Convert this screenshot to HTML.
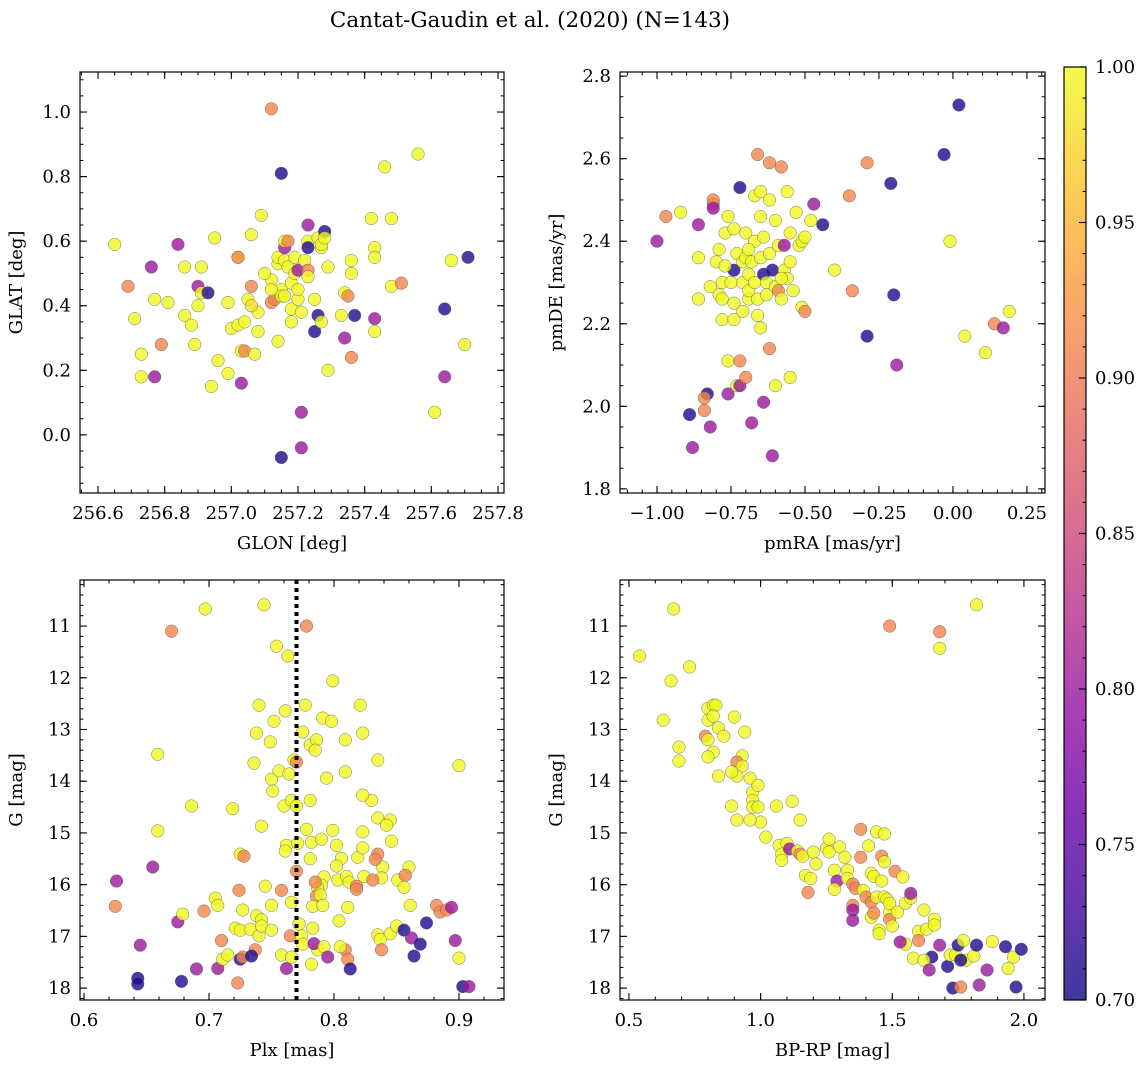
<!DOCTYPE html>
<html><head><meta charset="utf-8"><style>
html,body{margin:0;padding:0;background:#fff;}
svg{display:block;font-family:"DejaVu Serif","Liberation Serif",serif;}
</style></head><body>
<svg id="fig" width="1148" height="1067" viewBox="0 0 1148 1067" xmlns="http://www.w3.org/2000/svg">
<text x="530" y="27" font-size="21.5" text-anchor="middle">Cantat-Gaudin et al. (2020) (N=143)</text>
</svg>
<script>
// ---- Panel 1: GLON vs GLAT ----
const p1_glon=[256.65,256.71,256.73,256.73,256.69,256.76,256.77,256.77,256.79,256.81,256.84,256.86,256.86,256.88,256.89,256.90,256.91,256.91,256.90,256.93,256.94,256.95,256.96,256.99,256.99,257.00,257.02,257.02,257.02,257.03,257.03,257.04,257.04,257.05,257.06,257.06,257.07,257.08,257.08,257.09,257.12,257.12,257.12,257.13,257.14,257.14,257.15,257.14,257.15,257.15,257.16,257.16,257.16,257.16,257.17,257.17,257.18,257.18,257.18,257.19,257.19,257.20,257.20,257.20,257.21,257.21,257.21,257.22,257.23,257.23,257.23,257.23,257.23,257.25,257.25,257.26,257.26,257.27,257.27,257.28,257.28,257.27,257.29,257.29,257.33,257.34,257.34,257.35,257.36,257.36,257.36,257.37,257.42,257.43,257.43,257.43,257.43,257.46,257.48,257.48,257.51,257.56,257.61,257.64,257.64,257.66,257.70,257.71,257.15,257.10,257.12,257.06];
const p1_glat=[0.59,0.36,0.25,0.18,0.46,0.52,0.42,0.18,0.28,0.41,0.59,0.52,0.37,0.34,0.28,0.46,0.52,0.44,0.40,0.44,0.15,0.61,0.23,0.41,0.19,0.33,0.55,0.55,0.34,0.16,0.26,0.35,0.26,0.42,0.46,0.62,0.25,0.38,0.32,0.68,1.01,0.41,0.48,0.42,0.53,0.55,0.45,0.29,0.43,0.81,0.58,0.60,0.54,0.43,0.60,0.52,0.39,0.35,0.47,0.55,0.50,0.42,0.51,0.45,0.07,-0.04,0.38,0.54,0.65,0.51,0.60,0.58,0.49,0.32,0.42,0.37,0.61,0.58,0.59,0.63,0.61,0.35,0.52,0.20,0.37,0.44,0.30,0.43,0.50,0.54,0.24,0.37,0.67,0.58,0.55,0.36,0.32,0.83,0.67,0.46,0.47,0.87,0.07,0.39,0.18,0.54,0.28,0.55,-0.07,0.50,0.45,0.40];
const p1_prob=[1,1,1,1,0.91,0.80,1,0.80,0.91,1,0.80,1,1,1,1,0.80,1,1,1,0.71,1,1,1,1,1,1,1,0.91,1,0.80,1,1,0.91,1,0.91,1,1,1,1,1,0.91,0.91,1,0.91,1,1,1,1,1,0.71,0.80,1,1,1,0.91,1,1,1,1,1,1,1,0.80,1,0.80,0.80,1,1,0.80,0.91,1,0.71,1,0.71,1,0.71,1,1,1,0.71,1,1,1,1,1,1,0.80,0.91,1,1,0.91,0.71,1,1,1,0.80,1,1,1,1,0.91,1,1,0.71,0.80,1,1,0.71,0.71,1,1,0.98];
// ---- Panel 2: pmRA vs pmDE ----
const p2_pmra=[-1.00,-0.97,-0.92,-0.88,-0.86,-0.86,-0.86,-0.89,-0.83,-0.84,-0.84,-0.82,-0.82,-0.81,-0.81,-0.81,-0.80,-0.79,-0.79,-0.78,-0.78,-0.78,-0.77,-0.76,-0.76,-0.76,-0.75,-0.74,-0.74,-0.74,-0.74,-0.73,-0.73,-0.72,-0.72,-0.72,-0.71,-0.71,-0.71,-0.70,-0.70,-0.70,-0.69,-0.69,-0.69,-0.68,-0.68,-0.67,-0.67,-0.67,-0.66,-0.66,-0.65,-0.65,-0.65,-0.65,-0.64,-0.64,-0.64,-0.63,-0.63,-0.62,-0.62,-0.62,-0.62,-0.61,-0.61,-0.60,-0.60,-0.60,-0.59,-0.59,-0.58,-0.58,-0.57,-0.57,-0.56,-0.56,-0.55,-0.55,-0.55,-0.54,-0.53,-0.52,-0.51,-0.51,-0.50,-0.50,-0.48,-0.47,-0.44,-0.40,-0.35,-0.34,-0.29,-0.29,-0.21,-0.20,-0.19,-0.03,-0.01,0.02,0.04,0.11,0.14,0.17,0.19,-0.77,-0.69,-0.58,-0.66];
const p2_pmde=[2.40,2.46,2.47,1.90,2.44,2.36,2.26,1.98,2.03,2.02,1.99,1.95,2.29,2.49,2.50,2.48,2.35,2.27,2.38,2.21,2.26,2.30,2.42,2.46,2.03,2.11,2.30,2.25,2.43,2.21,2.33,2.37,2.05,2.53,2.11,2.05,2.30,2.35,2.23,2.07,2.42,2.36,2.26,2.32,2.28,1.96,2.35,2.51,2.40,2.30,2.61,2.26,2.36,2.52,2.19,2.46,2.32,2.01,2.41,2.27,2.30,2.50,2.37,2.14,2.59,2.33,1.88,2.45,2.29,2.05,2.39,2.28,2.58,2.26,2.33,2.39,2.52,2.31,2.42,2.07,2.35,2.28,2.47,2.39,2.24,2.40,2.23,2.41,2.45,2.49,2.44,2.33,2.51,2.28,2.59,2.17,2.54,2.27,2.10,2.61,2.40,2.73,2.17,2.13,2.20,2.19,2.23,2.34,2.38,2.31,2.22];
const p2_prob=[0.80,0.91,1,0.80,0.80,1,1,0.71,0.71,0.91,0.91,0.80,1,0.91,0.91,0.80,1,1,1,1,1,1,1,1,0.80,1,1,1,1,1,0.71,1,1,0.71,0.91,0.80,1,1,1,0.91,1,1,1,1,1,0.80,1,1,1,1,0.91,1,1,1,1,1,0.71,0.80,1,1,1,1,1,0.91,0.91,0.71,0.80,1,1,1,1,0.91,0.91,1,1,0.80,1,1,1,1,1,1,1,1,1,1,0.91,1,1,0.80,0.71,1,0.91,0.91,0.91,0.71,0.71,0.71,0.80,0.71,1,0.71,1,1,0.91,0.80,1,1,1,1,1];
// ---- Panel 3: Plx vs G ----
const p3_plx=[0.697,0.670,0.744,0.754,0.763,0.778,0.799,0.777,0.740,0.659,0.738,0.752,0.761,0.749,0.775,0.781,0.791,0.786,0.785,0.768,0.770,0.736,0.750,0.756,0.764,0.751,0.686,0.719,0.760,0.766,0.770,0.781,0.794,0.809,0.809,0.823,0.821,0.798,0.900,0.659,0.742,0.725,0.728,0.778,0.762,0.761,0.771,0.782,0.790,0.781,0.799,0.806,0.802,0.803,0.792,0.790,0.787,0.786,0.770,0.802,0.810,0.812,0.819,0.823,0.823,0.824,0.846,0.818,0.835,0.839,0.835,0.845,0.838,0.833,0.830,0.823,0.842,0.835,0.626,0.655,0.625,0.645,0.643,0.643,0.675,0.679,0.678,0.690,0.696,0.705,0.707,0.710,0.707,0.711,0.715,0.721,0.724,0.725,0.727,0.723,0.725,0.727,0.733,0.737,0.738,0.742,0.740,0.742,0.745,0.750,0.750,0.734,0.758,0.758,0.762,0.765,0.766,0.766,0.774,0.775,0.772,0.783,0.785,0.789,0.791,0.782,0.787,0.783,0.784,0.792,0.795,0.809,0.811,0.813,0.804,0.805,0.811,0.818,0.831,0.835,0.845,0.837,0.838,0.850,0.856,0.861,0.851,0.860,0.857,0.862,0.864,0.869,0.874,0.882,0.885,0.890,0.894,0.897,0.856,0.900,0.903,0.908];
const p3_g=[10.67,11.10,10.59,11.39,11.58,11.00,12.06,12.53,12.53,13.48,13.07,12.84,12.64,13.24,13.05,13.30,12.78,13.20,13.40,13.59,13.63,13.65,13.96,13.80,13.86,14.19,14.48,14.53,14.48,14.37,14.48,14.37,13.94,13.82,13.20,13.07,12.53,12.84,13.70,14.96,14.87,15.41,15.45,14.93,15.24,15.35,15.20,15.18,15.12,15.50,14.95,15.49,15.64,15.91,15.85,16.01,16.07,16.22,15.74,15.24,15.84,15.95,15.47,15.29,14.98,15.84,15.16,16.03,15.41,15.66,14.71,14.75,15.87,15.51,14.37,14.27,14.85,13.59,15.93,15.66,16.42,17.17,17.81,17.92,16.72,16.57,17.87,17.63,16.51,16.26,16.40,17.08,17.62,17.44,17.36,16.84,16.11,17.44,17.40,17.90,16.88,16.49,16.86,17.26,16.60,16.68,16.99,16.80,16.03,16.88,16.40,17.38,16.11,17.36,17.62,16.99,17.40,16.34,16.99,17.15,16.76,16.42,15.95,16.20,16.40,17.54,17.26,16.84,17.14,17.20,17.40,17.26,17.44,17.63,16.70,17.20,16.44,16.09,15.91,16.97,16.95,17.06,17.26,16.80,16.88,16.40,15.91,15.66,15.82,17.03,17.38,17.15,16.74,16.40,16.53,16.49,16.44,17.08,16.05,17.42,17.97,17.97];
const p3_prob=[1,0.91,1,1,1,0.91,1,1,1,1,1,1,1,1,1,1,1,1,1,1,0.91,1,1,1,1,1,1,1,1,1,1,1,1,1,1,1,1,1,1,1,1,1,0.91,1,1,1,1,1,1,1,1,1,1,1,1,1,1,0.91,0.91,1,1,1,1,1,1,1,1,0.91,0.91,1,1,1,1,0.91,1,1,1,1,0.80,0.80,0.91,0.80,0.71,0.71,0.80,1,0.71,0.80,0.91,1,1,0.91,0.80,1,1,1,0.91,0.71,0.91,0.91,1,1,1,0.91,1,1,1,1,1,1,1,0.71,0.91,1,0.80,0.91,1,1,1,1,1,1,0.91,1,1,1,1,1,0.80,1,0.80,0.91,0.91,0.71,1,1,1,0.91,0.91,1,1,1,0.91,1,0.71,1,1,1,0.91,0.80,0.71,0.71,0.71,0.91,0.91,0.91,0.80,0.80,1,1,0.71,0.80];
// ---- Panel 4: BP-RP vs G ----
const p4_bprp=[0.54,0.67,0.73,0.66,0.63,0.69,0.69,0.80,0.80,0.82,0.83,0.82,0.84,0.86,0.79,0.80,0.82,0.80,0.90,0.94,0.93,0.91,0.93,0.91,0.84,0.89,0.89,0.91,0.96,0.97,0.97,0.97,0.99,0.99,1.02,1.00,0.96,1.06,1.07,1.08,1.08,1.12,1.10,1.11,1.14,1.15,1.15,1.16,1.17,1.18,1.19,1.20,1.21,1.25,1.26,1.26,1.28,1.29,1.28,1.30,1.32,1.33,1.33,1.35,1.35,1.35,1.35,1.36,1.38,1.38,1.39,1.41,1.40,1.42,1.42,1.42,1.43,1.44,1.43,1.44,1.45,1.45,1.46,1.46,1.47,1.47,1.47,1.48,1.49,1.49,1.49,1.51,1.50,1.49,1.52,1.54,1.55,1.55,1.57,1.58,1.62,1.60,1.63,1.66,1.66,1.68,1.65,1.62,1.60,1.57,1.53,1.64,1.68,1.68,1.71,1.72,1.74,1.75,1.77,1.78,1.76,1.81,1.82,1.83,1.82,1.73,1.76,1.86,1.88,1.93,1.94,1.96,1.99,1.97,2.20];
const p4_g=[11.58,10.67,11.79,12.06,12.82,13.34,13.61,12.59,12.82,12.53,12.53,12.74,12.97,13.13,13.13,13.20,13.44,13.53,12.76,13.05,13.51,13.63,13.71,13.90,13.90,13.82,14.48,14.75,13.94,14.21,14.37,14.50,14.08,14.50,15.08,14.79,14.75,14.48,15.24,15.41,15.53,14.39,15.20,15.31,15.35,14.75,15.41,15.45,15.82,16.15,15.88,15.37,15.60,15.29,15.12,15.37,15.72,15.93,16.09,15.27,15.47,15.72,15.88,15.99,16.40,16.49,16.69,16.07,15.47,14.93,16.11,15.25,16.24,16.34,16.63,15.78,16.55,14.98,15.84,16.24,16.88,16.95,15.45,15.93,16.24,15.56,15.02,16.28,16.53,16.36,16.67,15.74,16.80,11.00,16.53,15.85,16.36,17.15,16.26,17.42,16.49,16.90,16.86,16.67,16.78,17.17,17.40,17.46,17.08,16.17,17.11,17.65,11.43,11.11,17.58,17.36,17.36,17.17,17.08,17.46,17.46,17.38,17.17,17.94,10.59,18.00,17.98,17.65,17.10,17.20,17.62,17.40,17.25,17.98,17.88];
const p4_prob=[1,1,1,1,1,1,1,1,1,1,1,1,1,1,0.91,1,1,1,1,1,1,0.91,1,1,1,1,1,1,1,1,1,1,1,1,1,1,1,1,1,1,1,1,1,0.80,1,1,0.91,1,1,0.91,1,1,1,1,1,1,1,0.80,1,1,1,1,1,0.91,0.91,0.80,0.80,0.91,0.91,0.91,1,1,0.91,0.91,1,1,0.91,1,1,1,1,1,0.91,1,1,1,1,1,1,1,0.91,0.91,1,0.91,1,1,1,1,1,1,1,1,1,1,1,0.80,0.71,1,0.91,0.80,0.80,0.80,1,0.91,0.71,1,1,0.71,1,1,0.71,1,0.71,0.80,1,0.71,0.91,0.80,1,0.71,1,1,0.71,0.71,0.71,0.71];
const cbTicks=[0.70,0.75,0.80,0.85,0.90,0.95,1.00];
const vlinePlx=0.770;

const NS="http://www.w3.org/2000/svg";
const svg=document.getElementById('fig');
const FS=18;
function mk(tag,attrs,parent){const e=document.createElementNS(NS,tag);for(const k in attrs)e.setAttribute(k,attrs[k]);(parent||svg).appendChild(e);return e;}
const stops=["#0d0887","#41049d","#6a00a8","#8f0da4","#b12a90","#cc4778","#e16462","#f2844b","#fca636","#fcce25","#f0f921"];
function hex(h){return [1,3,5].map(i=>parseInt(h.substr(i,2),16));}
function plasma(t){if(!isFinite(t))t=1;t=Math.max(0,Math.min(1,t));const f=t*10,i=Math.min(9,Math.floor(f)),u=f-i;const a=hex(stops[i]),b=hex(stops[i+1]);return 'rgb('+a.map((v,k)=>Math.round(v+(b[k]-v)*u)).join(',')+')';}
function cmap(p){return plasma(((p===undefined?1:p)-0.7)/0.3);}

function panel(cfg){
  const g=mk('g',{},svg);
  
  
  const {x0,x1,y0,y1}=cfg.box;
  const sx=v=>x0+(v-cfg.xlim[0])/(cfg.xlim[1]-cfg.xlim[0])*(x1-x0);
  const sy=cfg.inv?(v=>y0+(v-cfg.ylim[0])/(cfg.ylim[1]-cfg.ylim[0])*(y1-y0)):(v=>y1-(v-cfg.ylim[0])/(cfg.ylim[1]-cfg.ylim[0])*(y1-y0));
  const clip='clip-'+cfg.name;
  const cp=mk('clipPath',{id:clip},g);mk('rect',{x:x0,y:y0,width:x1-x0,height:y1-y0},cp);
  const pg=mk('g',{},g);
  
  
  pg.setAttribute('clip-path','url(#'+clip+')');
  const n=Math.min(cfg.xs.length,cfg.ys.length);
  for(let i=0;i<n;i++){
    const c=mk('circle',{cx:sx(cfg.xs[i]),cy:sy(cfg.ys[i]),r:6.3,fill:cmap(cfg.ps[i]),'fill-opacity':0.8,stroke:'#555','stroke-width':0.4},pg);
    
    
  }
  if(cfg.vline!==undefined){
    const l=mk('line',{x1:sx(cfg.vline),x2:sx(cfg.vline),y1:y0,y2:y1,stroke:'#000','stroke-width':4,'stroke-dasharray':'4,4'},g);
    
    
  }
  mk('rect',{x:x0,y:y0,width:x1-x0,height:y1-y0,fill:'none',stroke:'#000','stroke-width':1.2},g);
  for(let v=Math.ceil(cfg.xlim[0]/cfg.xminor-1e-9)*cfg.xminor;v<=cfg.xlim[1];v+=cfg.xminor){const X=sx(v);mk('line',{x1:X,x2:X,y1:y1,y2:y1-3.5,stroke:'#000'},g);mk('line',{x1:X,x2:X,y1:y0,y2:y0+3.5,stroke:'#000'},g);}
  for(let v=Math.ceil(cfg.ylim[0]/cfg.yminor-1e-9)*cfg.yminor;v<=cfg.ylim[1];v+=cfg.yminor){const Y=sy(v);mk('line',{x1:x0,x2:x0+3.5,y1:Y,y2:Y,stroke:'#000'},g);mk('line',{x1:x1,x2:x1-3.5,y1:Y,y2:Y,stroke:'#000'},g);}
  cfg.xt.forEach(v=>{const X=sx(v);mk('line',{x1:X,x2:X,y1:y1,y2:y1-7,stroke:'#000','stroke-width':1.1},g);mk('line',{x1:X,x2:X,y1:y0,y2:y0+7,stroke:'#000','stroke-width':1.1},g);
    const t=mk('text',{x:X,y:y1+26,'font-size':FS,'text-anchor':'middle'},g);t.textContent=(v<0?'\u2212':'')+Math.abs(v).toFixed(cfg.xdec);
    });
  cfg.yt.forEach(v=>{const Y=sy(v);mk('line',{x1:x0,x2:x0+7,y1:Y,y2:Y,stroke:'#000','stroke-width':1.1},g);mk('line',{x1:x1,x2:x1-7,y1:Y,y2:Y,stroke:'#000','stroke-width':1.1},g);
    const t=mk('text',{x:x0-9,y:Y+6,'font-size':FS,'text-anchor':'end'},g);t.textContent=(v<0?'\u2212':'')+Math.abs(v).toFixed(cfg.ydec);
    });
  const xl=mk('text',{x:(x0+x1)/2,y:y1+56,'font-size':FS,'text-anchor':'middle'},g);xl.textContent=cfg.xlabel;
  
  const yx=x0-cfg.ylabOff,yc=(y0+y1)/2;
  const yl=mk('text',{x:yx,y:yc,'font-size':FS,'text-anchor':'middle',transform:'rotate(-90 '+yx+' '+yc+')'},g);yl.textContent=cfg.ylabel;
  
}
const rng=(a,b,s)=>{const r=[];for(let v=a;v<=b+1e-9;v+=s)r.push(Math.round(v*1000)/1000);return r;};
panel({name:'glon-glat-panel',box:{x0:80,x1:504,y0:72,y1:493},xlim:[256.546,257.818],ylim:[-0.18,1.124],xs:p1_glon,ys:p1_glat,ps:p1_prob,
  xt:rng(256.6,257.8,0.2),yt:rng(0,1,0.2),xminor:0.05,yminor:0.05,xdec:1,ydec:1,xlabel:'GLON [deg]',ylabel:'GLAT [deg]',ylabOff:58});
panel({name:'proper-motion-panel',box:{x0:620,x1:1045,y0:72,y1:493},xlim:[-1.125,0.311],ylim:[1.79,2.81],xs:p2_pmra,ys:p2_pmde,ps:p2_prob,
  xt:rng(-1,0.25,0.25),yt:rng(1.8,2.8,0.2),xminor:0.05,yminor:0.05,xdec:2,ydec:1,xlabel:'pmRA [mas/yr]',ylabel:'pmDE [mas/yr]',ylabOff:58});
panel({name:'parallax-mag-panel',box:{x0:80,x1:504,y0:580,y1:1000},xlim:[0.5968,0.936],ylim:[10.11,18.23],inv:true,xs:p3_plx,ys:p3_g,ps:p3_prob,vline:vlinePlx,
  xt:rng(0.6,0.9,0.1),yt:rng(11,18,1),xminor:0.02,yminor:0.2,xdec:1,ydec:0,xlabel:'Plx [mas]',ylabel:'G [mag]',ylabOff:58});
panel({name:'cmd-panel',box:{x0:620,x1:1045,y0:580,y1:1000},xlim:[0.466,2.08],ylim:[10.11,18.23],inv:true,xs:p4_bprp,ys:p4_g,ps:p4_prob,
  xt:rng(0.5,2.0,0.5),yt:rng(11,18,1),xminor:0.1,yminor:0.2,xdec:1,ydec:0,xlabel:'BP-RP [mag]',ylabel:'G [mag]',ylabOff:58});
// colorbar
const cb=mk('g',{},svg);


const cbx=1064,cbw=22,cbt=67,cbb=1000;
const defs=mk('defs',{},cb);const lg=mk('linearGradient',{id:'cbg',x1:0,y1:1,x2:0,y2:0},defs);
for(let i=0;i<=20;i++)mk('stop',{offset:i/20,'stop-color':plasma(i/20),'stop-opacity':0.8},lg);
mk('rect',{x:cbx,y:cbt,width:cbw,height:cbb-cbt,fill:'url(#cbg)',stroke:'#000','stroke-width':1.2},cb);
const cy=v=>cbb-(v-0.7)/0.3*(cbb-cbt);
for(let v=0.70;v<=1.0001;v+=0.01){const Y=cy(v);mk('line',{x1:cbx+cbw,x2:cbx+cbw-3.5,y1:Y,y2:Y,stroke:'#000'},cb);}
cbTicks.forEach(v=>{const Y=cy(v);mk('line',{x1:cbx+cbw,x2:cbx+cbw-7,y1:Y,y2:Y,stroke:'#000','stroke-width':1.1},cb);
  const t=mk('text',{x:cbx+cbw+9,y:Y+6,'font-size':FS},cb);t.textContent=v.toFixed(2);
  });
</script>
</body></html>
